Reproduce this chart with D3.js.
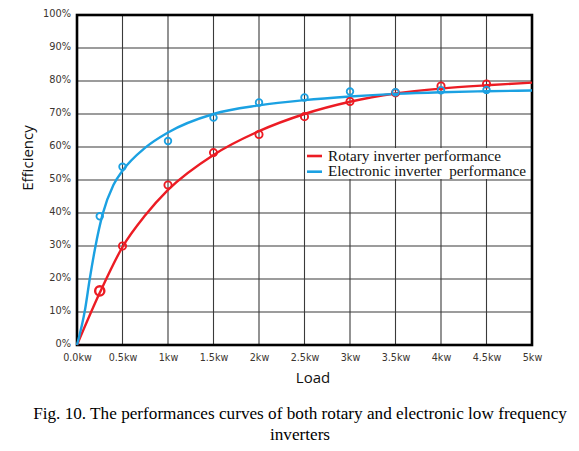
<!DOCTYPE html>
<html>
<head>
<meta charset="utf-8">
<script src="https://cdn.jsdelivr.net/npm/d3@7"></script>
<style>
  html, body { margin: 0; padding: 0; background: #fff; }
  svg { display: block; }
</style>
</head>
<body>
<svg id="chart" width="579" height="451"></svg>
<script>
// ---- data ----
const xTickValues = [0, 0.5, 1, 1.5, 2, 2.5, 3, 3.5, 4, 4.5, 5];
const xTickLabels = ["0.0kw", "0.5kw", "1kw", "1.5kw", "2kw", "2.5kw", "3kw", "3.5kw", "4kw", "4.5kw", "5kw"];
const yTickValues = [0, 10, 20, 30, 40, 50, 60, 70, 80, 90, 100];
const yTickLabels = ["0%", "10%", "20%", "30%", "40%", "50%", "60%", "70%", "80%", "90%", "100%"];

// measured points (markers)
const rotaryLoad = [0.25, 0.5, 1, 1.5, 2, 2.5, 3, 3.5, 4, 4.5];
const rotaryEff = [16.4, 30, 48.5, 58.3, 63.8, 69.2, 73.8, 76.4, 78.5, 79.1];
const electronicLoad = [0.25, 0.5, 1, 1.5, 2, 2.5, 3, 3.5, 4, 4.5];
const electronicEff = [39, 54, 61.8, 68.9, 73.5, 75, 76.8, 76.6, 77.2, 77.3];

// fitted curves
const rotaryCurveLoad = [0, 0.25, 0.5, 0.75, 1, 1.5, 2, 2.5, 3, 3.5, 4, 4.5, 5];
const rotaryCurveEff = [0, 15.8, 29.7, 39.3, 47, 57.6, 64.8, 70, 73.7, 76.2, 77.7, 78.7, 79.5];
const electronicCurveLoad = [0, 0.09, 0.14, 0.2, 0.28, 0.4, 0.5, 0.75, 1, 1.5, 2, 2.5, 3, 3.5, 4, 4.5, 5];
const electronicCurveEff = [0, 11, 20, 29.5, 39.5, 48.5, 52.8, 59.8, 64.4, 70, 72.6, 74.2, 75.3, 76.1, 76.6, 76.9, 77.1];

const seriesNames = ["Rotary inverter performance", "Electronic inverter\u00a0 performance"];
const seriesColors = ["#ec1c24", "#1ba1e2"];

const captionLines = [
  "Fig. 10. The performances curves of both rotary and electronic low frequency",
  "inverters"
];

// ---- layout ----
const svg = d3.select("#chart");
const L = 77, R = 532, T = 15, B = 345;
const x = d3.scaleLinear().domain([0, 5]).range([L, R]);
const y = d3.scaleLinear().domain([0, 100]).range([B, T]);

// gridlines
const grid = svg.append("g");
grid.selectAll("line.v").data(xTickValues.slice(1, -1)).join("line")
  .attr("x1", d => x(d)).attr("x2", d => x(d))
  .attr("y1", T).attr("y2", B)
  .attr("stroke", "#3a3a3a").attr("stroke-width", 1.1);
grid.selectAll("line.h").data(yTickValues.slice(1, -1)).join("line")
  .attr("x1", L).attr("x2", R)
  .attr("y1", d => y(d)).attr("y2", d => y(d))
  .attr("stroke", "#3a3a3a").attr("stroke-width", 1.1);

// legend box (white, covering grid)
const legX = x(2.5) + 1;
svg.append("rect")
  .attr("x", legX).attr("y", y(60) + 1)
  .attr("width", R - legX).attr("height", y(50) - y(60) - 2)
  .attr("fill", "#fff");

// axes
const xAxis = d3.axisBottom(x).tickValues(xTickValues)
  .tickFormat((d, i) => xTickLabels[i]).tickSize(0).tickPadding(9);
const gx = svg.append("g").attr("transform", `translate(0,${B})`).call(xAxis);
gx.select(".domain").remove();
gx.selectAll("text")
  .attr("font-family", "DejaVu Sans, Verdana, sans-serif")
  .attr("font-size", 9.6).attr("fill", "#3b3530");

const yAxis = d3.axisLeft(y).tickValues(yTickValues)
  .tickFormat((d, i) => yTickLabels[i]).tickSize(0).tickPadding(6);
const gy = svg.append("g").attr("transform", `translate(${L},0)`).call(yAxis);
gy.select(".domain").remove();
gy.selectAll("text")
  .attr("font-family", "DejaVu Sans, Verdana, sans-serif")
  .attr("font-size", 9.8).attr("fill", "#3b3530")
  .attr("dy", "0.2em");

// frame
svg.append("rect")
  .attr("x", L).attr("y", T).attr("width", R - L).attr("height", B - T)
  .attr("fill", "none").attr("stroke", "#000").attr("stroke-width", 2.6);

// curves
const line = d3.line().x(d => x(d[0])).y(d => y(d[1])).curve(d3.curveMonotoneX);
const rotaryCurve = rotaryCurveLoad.map((v, i) => [v, rotaryCurveEff[i]]);
const electronicCurve = electronicCurveLoad.map((v, i) => [v, electronicCurveEff[i]]);
svg.append("path").datum(rotaryCurve).attr("d", line)
  .attr("fill", "none").attr("stroke", seriesColors[0]).attr("stroke-width", 2.4);
svg.append("path").datum(electronicCurve).attr("d", line)
  .attr("fill", "none").attr("stroke", seriesColors[1]).attr("stroke-width", 2.4);

// markers
const rotaryPts = rotaryLoad.map((v, i) => [v, rotaryEff[i]]);
const electronicPts = electronicLoad.map((v, i) => [v, electronicEff[i]]);
svg.append("g").selectAll("circle").data(rotaryPts).join("circle")
  .attr("cx", d => x(d[0])).attr("cy", d => y(d[1]))
  .attr("r", (d, i) => i === 0 ? 4.6 : 3.6)
  .attr("fill", "none").attr("stroke", seriesColors[0])
  .attr("stroke-width", (d, i) => i === 0 ? 2.4 : 1.9);
svg.append("g").selectAll("circle").data(electronicPts).join("circle")
  .attr("cx", d => x(d[0])).attr("cy", d => y(d[1]))
  .attr("r", 3.3)
  .attr("fill", "none").attr("stroke", seriesColors[1]).attr("stroke-width", 1.8);

// legend entries
const legendWidths = [173, 198];
const leg = svg.append("g");
seriesNames.forEach((name, i) => {
  const ly = 156 + i * 15.7;
  leg.append("line")
    .attr("x1", 307).attr("x2", 322).attr("y1", ly).attr("y2", ly)
    .attr("stroke", seriesColors[i]).attr("stroke-width", 2.6);
  leg.append("text")
    .attr("x", 328).attr("y", ly + 4.7)
    .attr("font-family", "Liberation Serif, Times New Roman, serif")
    .attr("font-size", 14).attr("fill", "#111")
    .attr("textLength", legendWidths[i]).attr("lengthAdjust", "spacingAndGlyphs")
    .text(name);
});

// axis titles
svg.append("text")
  .attr("x", 313).attr("y", 383)
  .attr("text-anchor", "middle")
  .attr("font-family", "Open Sans, Liberation Sans, sans-serif")
  .attr("font-size", 15).attr("fill", "#111")
  .text("Load");
svg.append("text")
  .attr("transform", `translate(33,158) rotate(-90)`)
  .attr("text-anchor", "middle")
  .attr("font-family", "Open Sans, Liberation Sans, sans-serif")
  .attr("font-size", 15).attr("fill", "#111")
  .text("Efficiency");

// caption
svg.append("g").selectAll("text").data(captionLines).join("text")
  .attr("x", 300).attr("y", (d, i) => 419.3 + i * 20.7)
  .attr("text-anchor", "middle")
  .attr("font-family", "Liberation Serif, Times New Roman, serif")
  .attr("font-size", 17.2).attr("fill", "#000")
  .text(d => d);
</script>
</body>
</html>
